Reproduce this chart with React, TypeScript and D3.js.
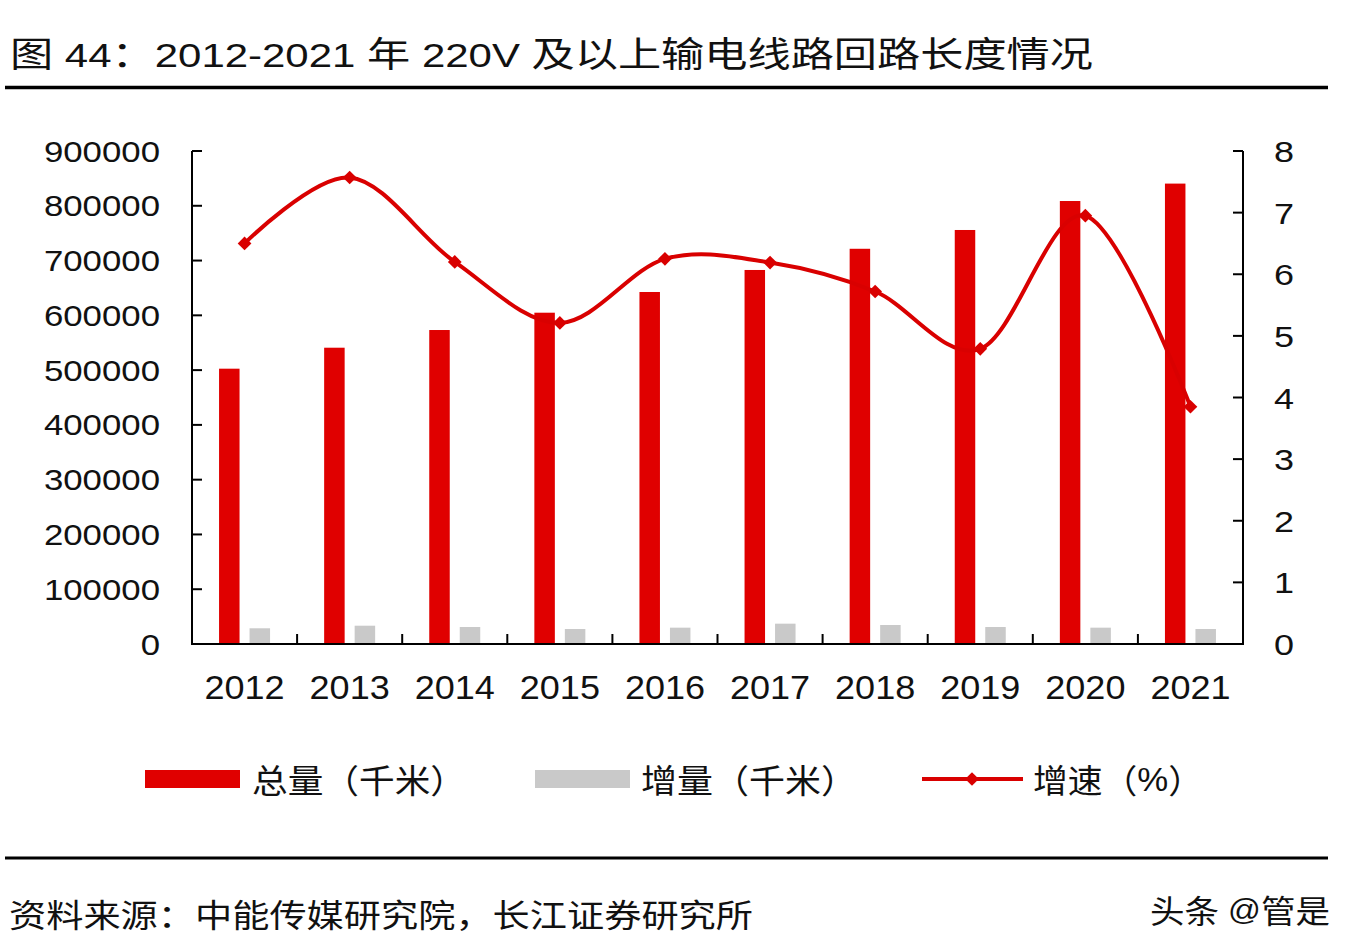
import React from "react";
import * as d3 from "d3";

const years = ["2012", "2013", "2014", "2015", "2016", "2017", "2018", "2019", "2020", "2021"];
const totalKm = [502600, 540900, 573200, 604800, 642600, 682800, 721500, 755800, 808700, 840500];
const incrementKm = [28700, 33400, 31000, 27400, 29800, 37100, 34700, 31000, 29800, 27400];
const growthPct = [6.5, 7.57, 6.2, 5.21, 6.25, 6.19, 5.72, 4.79, 6.95, 3.85];
const leftTicks = [0, 100000, 200000, 300000, 400000, 500000, 600000, 700000, 800000, 900000];
const rightTicks = [0, 1, 2, 3, 4, 5, 6, 7, 8];

const titleText = "图 44：2012-2021 年 220V 及以上输电线路回路长度情况";
const sourceText = "资料来源：中能传媒研究院，长江证券研究所";
const watermarkText = "头条 @管是";
const legendTotal = "总量（千米）";
const legendInc = "增量（千米）";
const legendGrowth = "增速（%）";

const RED = "#e00000";
const LINE_RED = "#d90000";
const GREY = "#c9c9c9";
const FONT = "'Liberation Sans', Arial, 'Noto Sans CJK SC', sans-serif";
const CJK_FONT = "'Noto Sans CJK SC', 'Liberation Sans', sans-serif";

const isCJK = (ch: string) => /[\u3000-\u9fff\uff00-\uffef]/.test(ch);

function splitRuns(s: string) {
  const runs: { t: string; cjk: boolean }[] = [];
  for (const ch of s) {
    const c = isCJK(ch);
    if (runs.length && runs[runs.length - 1].cjk === c) runs[runs.length - 1].t += ch;
    else runs.push({ t: ch, cjk: c });
  }
  return runs;
}

function MixedText(props: {
  x: number;
  y: number;
  text: string;
  latin: number;
  cjk: number;
  length: number;
  baseline?: string;
}) {
  const runs = splitRuns(props.text);
  return (
    <text
      x={props.x}
      y={props.y}
      textLength={props.length}
      lengthAdjust="spacingAndGlyphs"
      dominantBaseline={props.baseline as any}
      fill="#111"
      style={{ whiteSpace: "pre" }}
    >
      {runs.map((r, i) => (
        <tspan
          key={i}
          fontFamily={r.cjk ? CJK_FONT : FONT}
          fontSize={r.cjk ? props.cjk : props.latin}
        >
          {r.t}
        </tspan>
      ))}
    </text>
  );
}

export default function App() {
  const W = 1354;
  const H = 952;
  const xL = 192;
  const xR = 1243;
  const yBase = 644;
  const yTop = 151;

  const x0 = d3.scaleBand<string>().domain(years).range([xL, xR]).paddingInner(0).paddingOuter(0);
  const bw = x0.bandwidth();
  const x1 = d3
    .scaleBand<string>()
    .domain(["total", "inc"])
    .range([bw / 2 - 25.5, bw / 2 + 25.5])
    .paddingInner(0.328)
    .paddingOuter(0);
  const yL = d3.scaleLinear().domain([0, 900000]).range([yBase, yTop]);
  const yR = d3.scaleLinear().domain([0, 8]).range([yBase, yTop]);

  const pts: [number, number][] = years.map((yr, i) => [
    (x0(yr) as number) + bw / 2,
    yR(growthPct[i]),
  ]);
  const lineGen = d3.line().curve(d3.curveCardinal.tension(0));
  const linePath = lineGen(pts) as string;
  const diamond = d3.symbol().type(d3.symbolDiamond2).size(120)() as string;

  const boundaries = years.slice(1).map((yr) => x0(yr) as number);

  return (
    <svg
      width={W}
      height={H}
      viewBox={`0 0 ${W} ${H}`}
      style={{ position: "absolute", left: 0, top: 0, background: "#fff" }}
    >
      <rect x={0} y={0} width={W} height={H} fill="#fff" />

      {/* Title */}
      <MixedText x={10} y={67} text={titleText} latin={34} cjk={35} length={1083} />
      <line x1={5} x2={1328} y1={87.5} y2={87.5} stroke="#000" strokeWidth={3.5} />

      {/* Bars */}
      {years.map((yr, i) => (
        <g key={yr} transform={`translate(${x0(yr)},0)`}>
          <rect
            x={x1("total")}
            y={yL(totalKm[i])}
            width={x1.bandwidth()}
            height={yBase - yL(totalKm[i])}
            fill={RED}
          />
          <rect
            x={x1("inc")}
            y={yL(incrementKm[i])}
            width={x1.bandwidth()}
            height={yBase - yL(incrementKm[i])}
            fill={GREY}
          />
        </g>
      ))}

      {/* Axes */}
      <g stroke="#000" strokeWidth={2} fill="none">
        <line x1={xL} x2={xL} y1={yTop} y2={yBase} />
        <line x1={xR} x2={xR} y1={yTop} y2={yBase} />
        <line x1={xL - 1} x2={xR + 1} y1={yBase} y2={yBase} />
        {leftTicks.map((t) => (
          <line key={"lt" + t} x1={xL} x2={xL + 10} y1={yL(t)} y2={yL(t)} />
        ))}
        {rightTicks.map((t) => (
          <line key={"rt" + t} x1={xR - 10} x2={xR} y1={yR(t)} y2={yR(t)} />
        ))}
        {boundaries.map((b, i) => (
          <line key={"xt" + i} x1={b} x2={b} y1={yBase - 10} y2={yBase} />
        ))}
      </g>

      {/* Left tick labels */}
      {leftTicks.map((t) => (
        <text
          key={"ll" + t}
          transform={`translate(160,${yL(t) + 10.5}) scale(1.2,1)`}
          textAnchor="end"
          fontFamily={FONT}
          fontSize={29}
          fill="#111"
        >
          {t}
        </text>
      ))}

      {/* Right tick labels */}
      {rightTicks.map((t) => (
        <text
          key={"rl" + t}
          transform={`translate(1274,${yR(t) + 11}) scale(1.2,1)`}
          textAnchor="start"
          fontFamily={FONT}
          fontSize={30}
          fill="#111"
        >
          {t}
        </text>
      ))}

      {/* Year labels */}
      {years.map((yr) => (
        <text
          key={"yl" + yr}
          transform={`translate(${(x0(yr) as number) + bw / 2},699) scale(1.06,1)`}
          textAnchor="middle"
          fontFamily={FONT}
          fontSize={34}
          fill="#111"
        >
          {yr}
        </text>
      ))}

      {/* Growth line */}
      <path d={linePath} fill="none" stroke={LINE_RED} strokeWidth={4} />
      {pts.map((p, i) => (
        <path key={"m" + i} d={diamond} transform={`translate(${p[0]},${p[1]})`} fill={LINE_RED} />
      ))}

      {/* Legend */}
      <rect x={145} y={770} width={95} height={18} fill={RED} />
      <MixedText x={252} y={779} text={legendTotal} latin={32} cjk={33} length={214} baseline="central" />
      <rect x={535} y={770} width={95} height={18} fill={GREY} />
      <MixedText x={641} y={779} text={legendInc} latin={32} cjk={33} length={216} baseline="central" />
      <line x1={922} x2={1023} y1={779} y2={779} stroke={LINE_RED} strokeWidth={4} />
      <path d={diamond} transform="translate(972,779)" fill={LINE_RED} />
      <MixedText x={1033} y={779} text={legendGrowth} latin={33} cjk={33} length={170} baseline="central" />

      {/* Bottom rule and source */}
      <line x1={5} x2={1328} y1={858} y2={858} stroke="#000" strokeWidth={3} />
      <MixedText x={9} y={913} text={sourceText} latin={32} cjk={32} length={744} baseline="central" />
      <MixedText x={1150} y={909} text={watermarkText} latin={30} cjk={32} length={180} baseline="central" />
    </svg>
  );
}
